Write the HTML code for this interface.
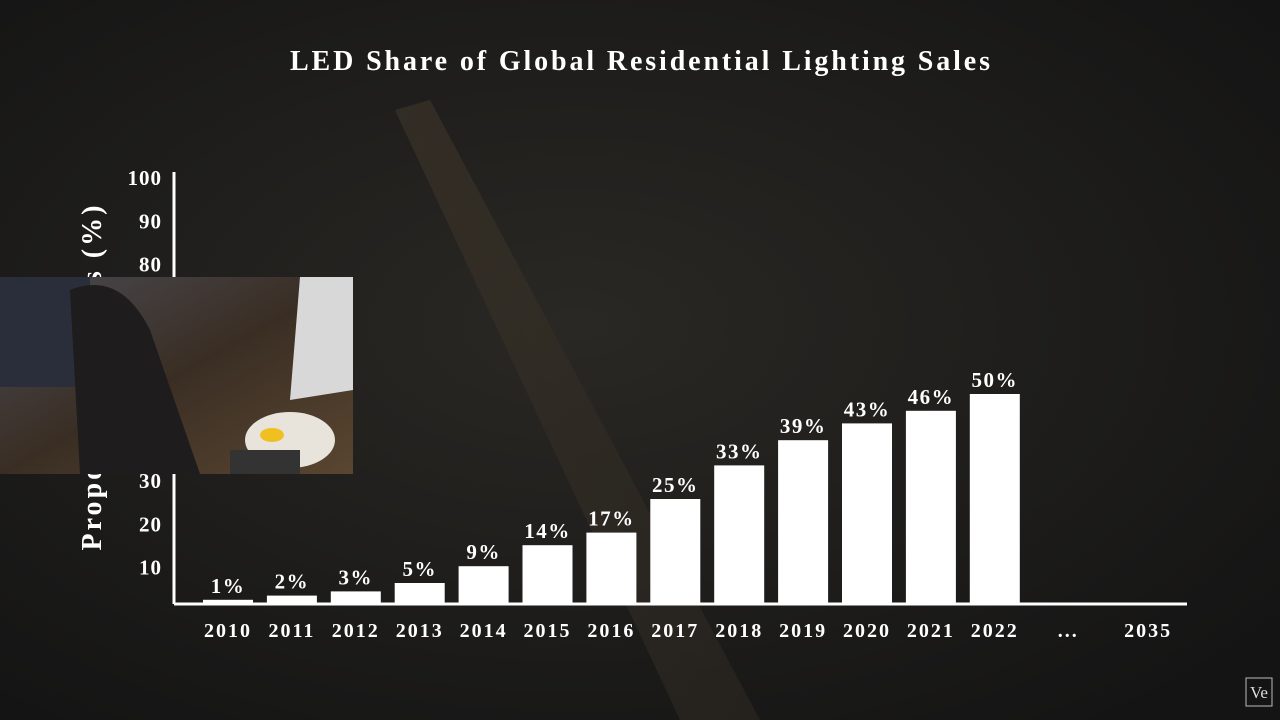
<!DOCTYPE html>
<html><head><meta charset="utf-8"><style>
html,body{margin:0;padding:0;width:1280px;height:720px;overflow:hidden;background:#1a1a19;}
svg{display:block;font-family:"Liberation Serif",serif;font-weight:bold;}
</style></head><body>
<svg id="chart" width="1280" height="720" viewBox="0 0 1280 720">
<defs>
<radialGradient id="bg1" cx="0.45" cy="0.45" r="0.7"><stop offset="0" stop-color="#2a2824"/><stop offset="1" stop-color="#141414"/></radialGradient>
<linearGradient id="road" x1="0" y1="0" x2="1" y2="1"><stop offset="0" stop-color="#3a3328"/><stop offset="1" stop-color="#2a2520"/></linearGradient>
<linearGradient id="cam" x1="0" y1="0" x2="1" y2="1"><stop offset="0" stop-color="#4a4a52"/><stop offset="0.5" stop-color="#3a2e24"/><stop offset="1" stop-color="#5a4630"/></linearGradient>
</defs>
<rect width="1280" height="720" fill="url(#bg1)"/>
<path d="M395 110 L430 100 L760 720 L680 720 Z" fill="url(#road)" opacity="0.7"/>
<text x="640" y="70" text-anchor="middle" font-size="28" textLength="700" lengthAdjust="spacing" fill="#fff">LED Share of Global Residential Lighting Sales</text>
<g id="yaxis"></g>
<g id="bars"></g>
<g id="xaxis"></g>
<text transform="translate(101,378) rotate(-90)" text-anchor="middle" font-size="28" textLength="345" lengthAdjust="spacing" fill="#fff">Proportion of sales (%)</text>
<g>
<rect x="0" y="277" width="353" height="197" fill="url(#cam)"/>
<rect x="0" y="277" width="90" height="110" fill="#2a2d3a"/>
<polygon points="300,277 353,277 353,390 290,400" fill="#d8d8d8"/>
<ellipse cx="290" cy="440" rx="45" ry="28" fill="#e8e4dc"/>
<ellipse cx="272" cy="435" rx="12" ry="7" fill="#f0c020"/>
<rect x="230" y="450" width="70" height="24" fill="#333"/>
<path d="M70 290 Q120 270 150 330 L200 474 L80 474 Z" fill="#1e1c1c"/>
</g>
<g><rect x="1246" y="678" width="26" height="28" fill="none" stroke="#bbb" stroke-width="1"/><text x="1259" y="698" text-anchor="middle" font-size="17" fill="#ddd" font-weight="normal">Ve</text></g>
</svg>
<script>
const categories=["2010","2011","2012","2013","2014","2015","2016","2017","2018","2019","2020","2021","2022","...","2035"];
const values=[1,2,3,5,9,14,17,25,33,39,43,46,50,null,null];
const valueLabels=["1%","2%","3%","5%","9%","14%","17%","25%","33%","39%","43%","46%","50%","",""];
const yTicks=[10,20,30,40,50,60,70,80,90,100];
const catIndex=[0,1,2,3,4,5,6,7,8,9,10,11,12,13.15,14.4];
const NS="http://www.w3.org/2000/svg";
function x(i){return 228+i*63.9;}
function y(v){return 611-v*4.33;}
function yb(v){return 604-v*4.2;}
const axisY=604;
function mk(t,a,parent){const e=document.createElementNS(NS,t);for(const k in a)e.setAttribute(k,a[k]);parent.appendChild(e);return e;}
const ya=document.getElementById('yaxis'),ba=document.getElementById('bars'),xa=document.getElementById('xaxis');
const yl=mk('line',{x1:174,y1:172,x2:174,y2:axisY,stroke:'#fff','stroke-width':3},ya);


yTicks.forEach(t=>{const e=mk('text',{x:162,y:y(t)+7,'text-anchor':'end','font-size':21,'letter-spacing':1,fill:'#fff'},ya);e.textContent=t;

});
categories.forEach((c,i)=>{const cx=x(catIndex[i]);
const t=mk('text',{x:cx,y:637,'text-anchor':'middle','font-size':20,'letter-spacing':2,fill:'#fff'},xa);t.textContent=c;


const v=values[i];if(v==null)return;
const top=Math.min(yb(v),axisY-4);
const r=mk('rect',{x:cx-25,y:top,width:50,height:axisY-top,fill:'#fff'},ba);


const l=mk('text',{x:cx,y:top-7,'text-anchor':'middle','font-size':21,'letter-spacing':1.5,fill:'#fff'},ba);l.textContent=valueLabels[i];

});
const xl=mk('line',{x1:174,y1:axisY,x2:1187,y2:axisY,stroke:'#fff','stroke-width':3},xa);


</script>
</body></html>
